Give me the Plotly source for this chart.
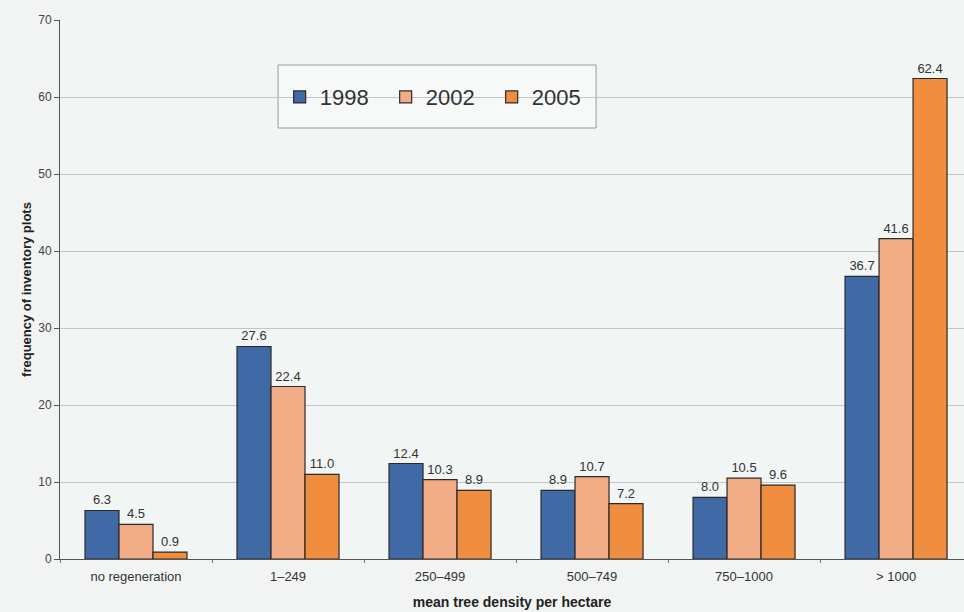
import plotly.graph_objects as go

categories = ["no regeneration", "1\u2013249", "250\u2013499", "500\u2013749", "750\u20131000", "> 1000"]
years = ["1998", "2002", "2005"]
v1998 = [6.3, 27.6, 12.4, 8.9, 8.0, 36.7]
v2002 = [4.5, 22.4, 10.3, 10.7, 10.5, 41.6]
v2005 = [0.9, 11.0, 8.9, 7.2, 9.6, 62.4]
y_ticks = [0, 10, 20, 30, 40, 50, 60, 70]

colors = ["#3f6aa6", "#f2ad86", "#f08d3e"]
series = [v1998, v2002, v2005]

fig = go.Figure()
for name, vals, c in zip(years, series, colors):
    fig.add_trace(go.Bar(
        x=categories, y=vals, name=name,
        marker=dict(color=c, line=dict(color="#2a2a2a", width=1.2)),
        text=[f"{v:.1f}" for v in vals], textposition="outside",
        textfont=dict(family="Liberation Sans, Arial", size=13, color="#333333"),
        cliponaxis=False,
    ))

# legend frame
fig.add_shape(type="rect", xref="paper", yref="paper",
              x0=0.2412, x1=0.593, y0=0.7996, y1=0.9165,
              line=dict(color="#9a9a9a", width=1), fillcolor="#f6f9f8", layer="below")

fig.update_layout(
    width=964, height=612,
    margin=dict(l=60, r=0, t=20, b=53),
    paper_bgcolor="#f1f4f3", plot_bgcolor="#f1f5f4",
    barmode="group", bargap=0.329, bargroupgap=0,
    font=dict(family="Liberation Sans, Arial", color="#333333"),
    showlegend=True,
    legend=dict(
        orientation="h", x=0.243, y=0.857, xanchor="left", yanchor="middle",
        bgcolor="rgba(0,0,0,0)", borderwidth=0,
        font=dict(size=22, color="#333333"),
        entrywidth=61, tracegroupgap=0,
    ),
    xaxis=dict(
        range=[-0.5, 5.447],
        showline=True, linecolor="#555555", linewidth=1,
        tickfont=dict(size=13, color="#333333"),
        ticklabelstandoff=5,
        title=dict(text="<b>mean tree density per hectare</b>", font=dict(size=14, color="#222222"), standoff=14),
        ticks="outside", tickson="boundaries", ticklen=3, tickcolor="#777777",
    ),
    yaxis=dict(
        range=[0, 70], tickvals=y_ticks,
        showline=True, linecolor="#555555", linewidth=1,
        gridcolor="#c2c6c6", gridwidth=1,
        ticks="outside", ticklen=5, tickcolor="#555555",
        tickfont=dict(size=12, color="#444444"),
        title=dict(text="<b>frequency of inventory plots</b>", font=dict(size=13, color="#222222"), standoff=3),
        zeroline=False,
    ),
)

fig.write_html("out.html")
